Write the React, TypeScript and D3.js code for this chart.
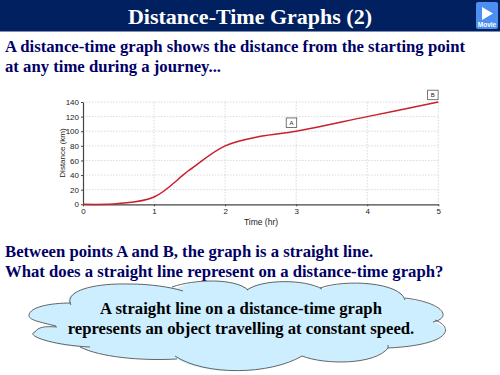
import React, { useEffect, useRef } from "react";
import * as d3 from "d3";

const times = [0, 0.5, 1, 1.5, 2, 2.5, 3, 4, 5];
const distances = [0, 1, 10, 47, 80, 93, 100, 120, 140];
const xTicks = [0, 1, 2, 3, 4, 5];
const yTicks = [0, 20, 40, 60, 80, 100, 120, 140];
const callouts = [
  { label: "A", t: 2.93, d: 112 },
  { label: "B", t: 4.92, d: 150 },
];
const intro = [
  "A distance-time graph shows the distance from the starting point",
  "at any time during a journey...",
];
const question = [
  "Between points A and B, the graph is a straight line.",
  "What does a straight line represent on a distance-time graph?",
];
const answer = [
  "A straight line on a distance-time graph",
  "represents an object travelling at constant speed.",
];
const cloudOutline =
  "M69,303 C64,292 90,283 130,284 C150,284 170,287 177,288 C195,279 235,278 248,289 C262,279 305,279 322,289 C345,279 400,282 405,299 C445,303 452,318 433,322 C455,328 450,345 388,348 C375,365 325,365 302,356 C270,375 205,376 177,359 C140,361 100,357 80,347 C50,345 25,335 35,332 C38,327 45,326 56,327 C40,322 28,320 29,315 C30,307 50,303 69,303 Z";
const cloudLobes = [
  "M71,305 C64,292 90,283 130,284 C150,284 170,287 183,291",
  "M172,287 C195,279 235,278 248,290",
  "M247,290 C262,279 305,279 322,289",
  "M320,288 C345,279 400,282 405,300",
  "M405,298 C445,303 452,318 433,322",
  "M435,320 C455,328 450,345 388,348 L388,345",
  "M388,348 C375,365 325,365 302,356 L302,356",
  "M302,356 C270,375 205,376 175,356",
  "M177,359 C140,361 100,357 80,347",
  "M90,347 C50,345 25,335 35,332 C38,327 45,326 57,327",
  "M56,326 C40,322 28,320 29,315 C30,307 50,303 71,303",
];

const W = 500;
const H = 375;
const serif = "'Liberation Serif', 'Times New Roman', serif";
const sans = "'Liberation Sans', Arial, sans-serif";

export default function App() {
  const axisX = useRef<SVGGElement>(null);
  const axisY = useRef<SVGGElement>(null);
  const x = d3.scaleLinear().domain([0, 5]).range([83, 438.3]);
  const y = d3.scaleLinear().domain([0, 140]).range([204.3, 102]);
  const line = d3
    .line<number>()
    .x((_, i) => x(times[i]))
    .y((d) => y(d))
    .curve(d3.curveCatmullRom.alpha(0.5));

  useEffect(() => {
    const style = (g: d3.Selection<SVGGElement, unknown, null, undefined>) => {
      g.selectAll("text").attr("font-family", sans).attr("font-size", 8).attr("fill", "#222");
      g.selectAll("line").attr("stroke", "#444");
      g.select(".domain").attr("stroke", "#444").attr("stroke-width", 1.2);
    };
    const fmt = d3.format("d") as (d: d3.NumberValue) => string;
    if (axisX.current) {
      d3.select(axisX.current)
        .call(d3.axisBottom(x).tickValues(xTicks).tickFormat(fmt).tickSize(2).tickPadding(2).tickSizeOuter(0))
        .call(style);
    }
    if (axisY.current) {
      d3.select(axisY.current)
        .call(d3.axisLeft(y).tickValues(yTicks).tickFormat(fmt).tickSize(2).tickPadding(2).tickSizeOuter(0))
        .call(style);
    }
  }, []);

  return (
    <svg
      width={W}
      height={H}
      viewBox={`0 0 ${W} ${H}`}
      style={{ position: "fixed", left: 0, top: 0, background: "#fff" }}
    >
      <rect x={0} y={0} width={W} height={31.5} fill="#002060" />
      <text x={250} y={24} textAnchor="middle" fontFamily={serif} fontWeight="bold" fontSize={22} fill="#fff">
        Distance-Time Graphs (2)
      </text>
      <g>
        <rect x={476} y={2} width={22} height={27} rx={2} fill="#4d8ff0" />
        <path d="M482,7 L482,20 L493,13.5 Z" fill="#fff" />
        <text x={487} y={27} textAnchor="middle" fontFamily={sans} fontWeight="bold" fontSize={6.5} fill="#fff">
          Movie
        </text>
      </g>
      {intro.map((t, i) => (
        <text key={t} x={5} y={52 + i * 19.5} fontFamily={serif} fontWeight="bold" fontSize={16.7} fill="#000066">
          {t}
        </text>
      ))}

      {xTicks.slice(1).map((t) => (
        <line key={t} x1={x(t)} x2={x(t)} y1={y(140)} y2={y(0)} stroke="#ccc" strokeWidth={0.7} strokeDasharray="1.5 1.5" />
      ))}
      {yTicks.slice(1).map((t) => (
        <line key={t} x1={x(0)} x2={x(5)} y1={y(t)} y2={y(t)} stroke="#ccc" strokeWidth={0.7} strokeDasharray="1.5 1.5" />
      ))}
      <g ref={axisX} transform={`translate(0,${y(0)})`} />
      <g ref={axisY} transform={`translate(${x(0)},0)`} />
      <path d={line(distances) ?? ""} fill="none" stroke="#c8202c" strokeWidth={1.5} />
      <text x={261} y={224.5} textAnchor="middle" fontFamily={sans} fontSize={8.5} fill="#222">
        Time (hr)
      </text>
      <text
        transform="translate(65,153) rotate(-90)"
        textAnchor="middle"
        fontFamily={sans}
        fontSize={8}
        fill="#222"
      >
        Distance (km)
      </text>
      {callouts.map((c) => (
        <g key={c.label}>
          <rect x={x(c.t) - 5} y={y(c.d) - 4.5} width={10.5} height={9.5} fill="#fff" stroke="#555" strokeWidth={0.8} />
          <text x={x(c.t) + 0.2} y={y(c.d) + 2.5} textAnchor="middle" fontFamily={sans} fontSize={6} fill="#222">
            {c.label}
          </text>
        </g>
      ))}

      {question.map((t, i) => (
        <text key={t} x={5} y={257 + i * 19.5} fontFamily={serif} fontWeight="bold" fontSize={16.7} fill="#000066">
          {t}
        </text>
      ))}

      <path d={cloudOutline} fill="#cceeff" />
      {cloudLobes.map((d) => (
        <path key={d} d={d} fill="none" stroke="#555" strokeWidth={0.9} />
      ))}
      {answer.map((t, i) => (
        <text key={t} x={241} y={314 + i * 20} textAnchor="middle" fontFamily={serif} fontWeight="bold" fontSize={16.7} fill="#000">
          {t}
        </text>
      ))}
    </svg>
  );
}
